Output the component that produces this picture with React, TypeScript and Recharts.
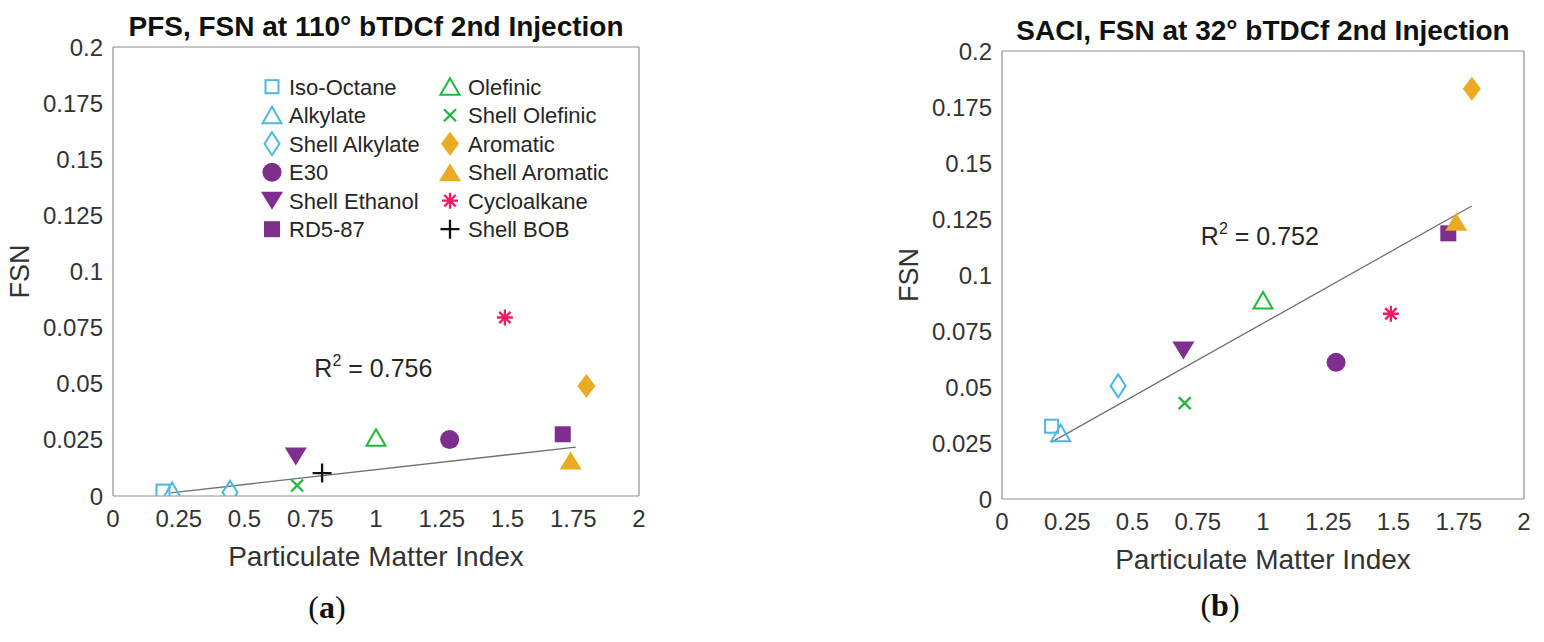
import React from "react";
import {
  Legend,
  ReferenceDot,
  Scatter,
  ScatterChart,
  XAxis,
  YAxis,
} from "recharts";

const FONT = '"Liberation Sans", Arial, Helvetica, sans-serif';
const AXIS_COLOR = "#8f8f8f";
const TEXT_COLOR = "#333333";
const FIT_COLOR = "#707070";

const CYAN = "#4db6e2";
const GREEN = "#1fb83c";
const PURPLE = "#7e2f8e";
const ORANGE = "#eaaa22";
const PINK = "#ee1c5f";
const BLACK = "#111111";

// fuels in legend order (first column, then second column)
const FUELS = [
  "Iso-Octane",
  "Alkylate",
  "Shell Alkylate",
  "E30",
  "Shell Ethanol",
  "RD5-87",
  "Olefinic",
  "Shell Olefinic",
  "Aromatic",
  "Shell Aromatic",
  "Cycloalkane",
  "Shell BOB",
];

// particulate matter index of each fuel
const PMI = [0.19, 0.225, 0.445, 1.28, 0.695, 1.71, 1.0, 0.7, 1.8, 1.74, 1.49, 0.795];

// (a) PFS, FSN at 110° bTDCf
const FSN_PFS = [0.0022, 0.0022, 0.0016, 0.0252, 0.0176, 0.0275, 0.026, 0.0047, 0.049, 0.0158, 0.0795, 0.0102];
// (b) SACI, FSN at 32° bTDCf (no Shell BOB point)
const FSN_SACI = [0.0325, 0.0294, 0.0505, 0.061, 0.0663, 0.1186, 0.0886, 0.0428, 0.1832, 0.1238, 0.0827, null];

// linear fit end points
const FIT_PFS_X = [0.22, 1.76];
const FIT_PFS_Y = [0.0014, 0.0218];
const FIT_SACI_X = [0.19, 1.8];
const FIT_SACI_Y = [0.0254, 0.1308];

// R² annotations: [pmi, fsn] position and value
const R2_PFS_AT = [0.99, 0.0572];
const R2_PFS = "0.756";
const R2_SACI_AT = [0.988, 0.1172];
const R2_SACI = "0.752";

const X_TICKS = [0, 0.25, 0.5, 0.75, 1, 1.25, 1.5, 1.75, 2];
const Y_TICKS = [0, 0.025, 0.05, 0.075, 0.1, 0.125, 0.15, 0.175, 0.2];

const MARKER_KIND = [
  "square",
  "triangle",
  "diamond",
  "circleFilled",
  "triangleDownFilled",
  "squareFilled",
  "triangle",
  "cross",
  "diamondFilled",
  "triangleFilled",
  "asterisk",
  "plus",
];
const MARKER_COLOR = [CYAN, CYAN, CYAN, PURPLE, PURPLE, PURPLE, GREEN, GREEN, ORANGE, ORANGE, PINK, BLACK];

function Marker({ kind, color, cx, cy }: { kind: string; color: string; cx: number; cy: number }) {
  const sw = 2;
  switch (kind) {
    case "square":
      return <rect x={cx - 6.5} y={cy - 6.5} width={13} height={13} fill="none" stroke={color} strokeWidth={sw} />;
    case "squareFilled":
      return <rect x={cx - 8} y={cy - 8} width={16} height={16} fill={color} />;
    case "triangle":
      return (
        <polygon
          points={`${cx},${cy - 8.5} ${cx + 9.5},${cy + 8} ${cx - 9.5},${cy + 8}`}
          fill="none"
          stroke={color}
          strokeWidth={sw}
        />
      );
    case "triangleFilled":
      return <polygon points={`${cx},${cy - 9} ${cx + 11},${cy + 9} ${cx - 11},${cy + 9}`} fill={color} />;
    case "triangleDownFilled":
      return <polygon points={`${cx - 11},${cy - 9} ${cx + 11},${cy - 9} ${cx},${cy + 9}`} fill={color} />;
    case "diamond":
      return (
        <polygon
          points={`${cx},${cy - 11.5} ${cx + 7.5},${cy} ${cx},${cy + 11.5} ${cx - 7.5},${cy}`}
          fill="none"
          stroke={color}
          strokeWidth={sw}
        />
      );
    case "diamondFilled":
      return <polygon points={`${cx},${cy - 12} ${cx + 9},${cy} ${cx},${cy + 12} ${cx - 9},${cy}`} fill={color} />;
    case "circleFilled":
      return <circle cx={cx} cy={cy} r={9.5} fill={color} />;
    case "cross":
      return (
        <path
          d={`M${cx - 6},${cy - 6}L${cx + 6},${cy + 6}M${cx + 6},${cy - 6}L${cx - 6},${cy + 6}`}
          stroke={color}
          strokeWidth={2.3}
        />
      );
    case "plus":
      return (
        <path
          d={`M${cx - 9.5},${cy}L${cx + 9.5},${cy}M${cx},${cy - 9.5}L${cx},${cy + 9.5}`}
          stroke={color}
          strokeWidth={2.3}
        />
      );
    case "asterisk": {
      const r = 8;
      const d = r * 0.7071;
      return (
        <path
          d={`M${cx - r},${cy}L${cx + r},${cy}M${cx},${cy - r}L${cx},${cy + r}M${cx - d},${cy - d}L${cx + d},${cy + d}M${cx + d},${cy - d}L${cx - d},${cy + d}`}
          stroke={color}
          strokeWidth={2.3}
        />
      );
    }
    default:
      return <g />;
  }
}

function LegendBox() {
  return (
    <svg width={380} height={175} style={{ display: "block" }}>
      {FUELS.map((name, i) => {
        const col = i < 6 ? 0 : 1;
        const row = i % 6;
        const mx = col ? 195 : 17;
        const tx = col ? 213 : 34;
        const y = 16.7 + row * 28.5;
        return (
          <g key={name}>
            <Marker kind={MARKER_KIND[i]} color={MARKER_COLOR[i]} cx={mx} cy={y} />
            <text x={tx} y={y + 7.9} fontSize={22} fill="#262626" fontFamily={FONT}>
              {name}
            </text>
          </g>
        );
      })}
    </svg>
  );
}

const tickStyle = { fontSize: 24, fill: TEXT_COLOR, fontFamily: FONT };

interface PanelProps {
  title: string;
  fsn: (number | null)[];
  fitX: number[];
  fitY: number[];
  r2At: number[];
  r2: string;
  margin: { top: number; right: number; bottom: number; left: number };
  showLegend: boolean;
}

function Panel({ title, fsn, fitX, fitY, r2At, r2, margin, showLegend }: PanelProps) {
  const fitData = fitX.map((x, i) => ({ x, y: fitY[i] }));

  const titleLabel = (props: any) => {
    const { x, y, width } = props.viewBox;
    return (
      <text x={x + width / 2} y={y - 11} textAnchor="middle" fontSize={28} fontWeight="bold" fill="#111" fontFamily={FONT}>
        {title}
      </text>
    );
  };

  const xLabel = (props: any) => {
    const { x, y, width } = props.viewBox;
    return (
      <text x={x + width / 2} y={y + 70} textAnchor="middle" fontSize={28} fill={TEXT_COLOR} fontFamily={FONT}>
        Particulate Matter Index
      </text>
    );
  };

  const yLabel = (props: any) => {
    const { x, y, width, height } = props.viewBox;
    const bx = x + width - 93.5 + 9.7;
    const cy = y + height / 2;
    return (
      <text
        x={bx}
        y={cy}
        transform={`rotate(-90 ${bx} ${cy})`}
        textAnchor="middle"
        fontSize={27}
        fill={TEXT_COLOR}
        fontFamily={FONT}
      >
        FSN
      </text>
    );
  };

  const innerTick = { stroke: AXIS_COLOR, strokeWidth: 1 };
  const frame = { stroke: AXIS_COLOR, strokeWidth: 1.2 };

  return (
    <ScatterChart width={660} height={642} margin={margin}>
      <XAxis
        xAxisId={0}
        type="number"
        dataKey="x"
        domain={[0, 2]}
        ticks={X_TICKS}
        interval={0}
        allowDataOverflow
        height={100}
        tickSize={6}
        tickMargin={8}
        tickLine={false}
        axisLine={frame}
        tick={tickStyle}
        label={xLabel}
      />
      <XAxis
        xAxisId="bottomIn"
        orientation="bottom"
        mirror
        type="number"
        dataKey="x"
        domain={[0, 2]}
        ticks={X_TICKS}
        interval={0}
        allowDataOverflow
        tick={false}
        tickSize={5}
        tickLine={innerTick}
        axisLine={false}
      />
      <XAxis
        xAxisId="top"
        orientation="top"
        mirror
        type="number"
        dataKey="x"
        domain={[0, 2]}
        ticks={X_TICKS}
        interval={0}
        allowDataOverflow
        tick={false}
        tickSize={5}
        tickLine={innerTick}
        axisLine={frame}
        label={titleLabel}
      />
      <YAxis
        yAxisId={0}
        type="number"
        dataKey="y"
        domain={[0, 0.2]}
        ticks={Y_TICKS}
        interval={0}
        allowDataOverflow
        width={113}
        tickSize={2}
        tickMargin={8}
        tickLine={false}
        axisLine={frame}
        tick={tickStyle}
        label={yLabel}
      />
      <YAxis
        yAxisId="leftIn"
        orientation="left"
        mirror
        type="number"
        dataKey="y"
        domain={[0, 0.2]}
        ticks={Y_TICKS}
        interval={0}
        allowDataOverflow
        tick={false}
        tickSize={5}
        tickLine={innerTick}
        axisLine={false}
      />
      <YAxis
        yAxisId="right"
        orientation="right"
        mirror
        type="number"
        dataKey="y"
        domain={[0, 0.2]}
        ticks={Y_TICKS}
        interval={0}
        allowDataOverflow
        tick={false}
        tickSize={5}
        tickLine={innerTick}
        axisLine={frame}
      />

      <Scatter
        name="fit"
        data={fitData}
        line={{ stroke: FIT_COLOR, strokeWidth: 1.3 }}
        shape={() => <g />}
        legendType="none"
        isAnimationActive={false}
      />

      {FUELS.map((name, i) =>
        fsn[i] == null ? null : (
          <Scatter
            key={name}
            name={name}
            data={[{ x: PMI[i], y: fsn[i] }]}
            shape={(p: any) => <Marker kind={MARKER_KIND[i]} color={MARKER_COLOR[i]} cx={p.cx} cy={p.cy} />}
            isAnimationActive={false}
          />
        )
      )}

      <ReferenceDot
        x={r2At[0]}
        y={r2At[1]}
        r={0}
        shape={(p: any) => (
          <text x={p.cx} y={p.cy + 9} textAnchor="middle" fontSize={25} fill="#262626" fontFamily={FONT}>
            R
            <tspan dy={-11} fontSize={16}>
              2
            </tspan>
            <tspan dy={11}>{` = ${r2}`}</tspan>
          </text>
        )}
      />

      {showLegend && (
        <Legend
          layout="vertical"
          align="center"
          verticalAlign="middle"
          wrapperStyle={{ left: 255, top: 70, width: 380, height: 175 }}
          content={() => <LegendBox />}
        />
      )}
    </ScatterChart>
  );
}

const captionStyle: React.CSSProperties = {
  position: "absolute",
  width: 100,
  textAlign: "center",
  fontFamily: '"Liberation Serif", "Times New Roman", serif',
  fontSize: 32,
  lineHeight: "32px",
  color: "#111",
};

export default function App() {
  return (
    <div style={{ position: "absolute", left: 0, top: 0, width: 1544, height: 642, background: "#fff", overflow: "hidden" }}>
      <div style={{ position: "absolute", left: 0, top: 0 }}>
        <Panel
          title="PFS, FSN at 110° bTDCf 2nd Injection"
          fsn={FSN_PFS}
          fitX={FIT_PFS_X}
          fitY={FIT_PFS_Y}
          r2At={R2_PFS_AT}
          r2={R2_PFS}
          margin={{ top: 47, right: 21, bottom: 46, left: 0 }}
          showLegend
        />
      </div>
      <div style={{ position: "absolute", left: 889, top: 0 }}>
        <Panel
          title="SACI, FSN at 32° bTDCf 2nd Injection"
          fsn={FSN_SACI}
          fitX={FIT_SACI_X}
          fitY={FIT_SACI_Y}
          r2At={R2_SACI_AT}
          r2={R2_SACI}
          margin={{ top: 51, right: 25, bottom: 43, left: 0 }}
          showLegend={false}
        />
      </div>
      <div style={{ ...captionStyle, left: 327 - 50, top: 591 }}>
        (<b>a</b>)
      </div>
      <div style={{ ...captionStyle, left: 1220 - 50, top: 589 }}>
        (<b>b</b>)
      </div>
    </div>
  );
}
